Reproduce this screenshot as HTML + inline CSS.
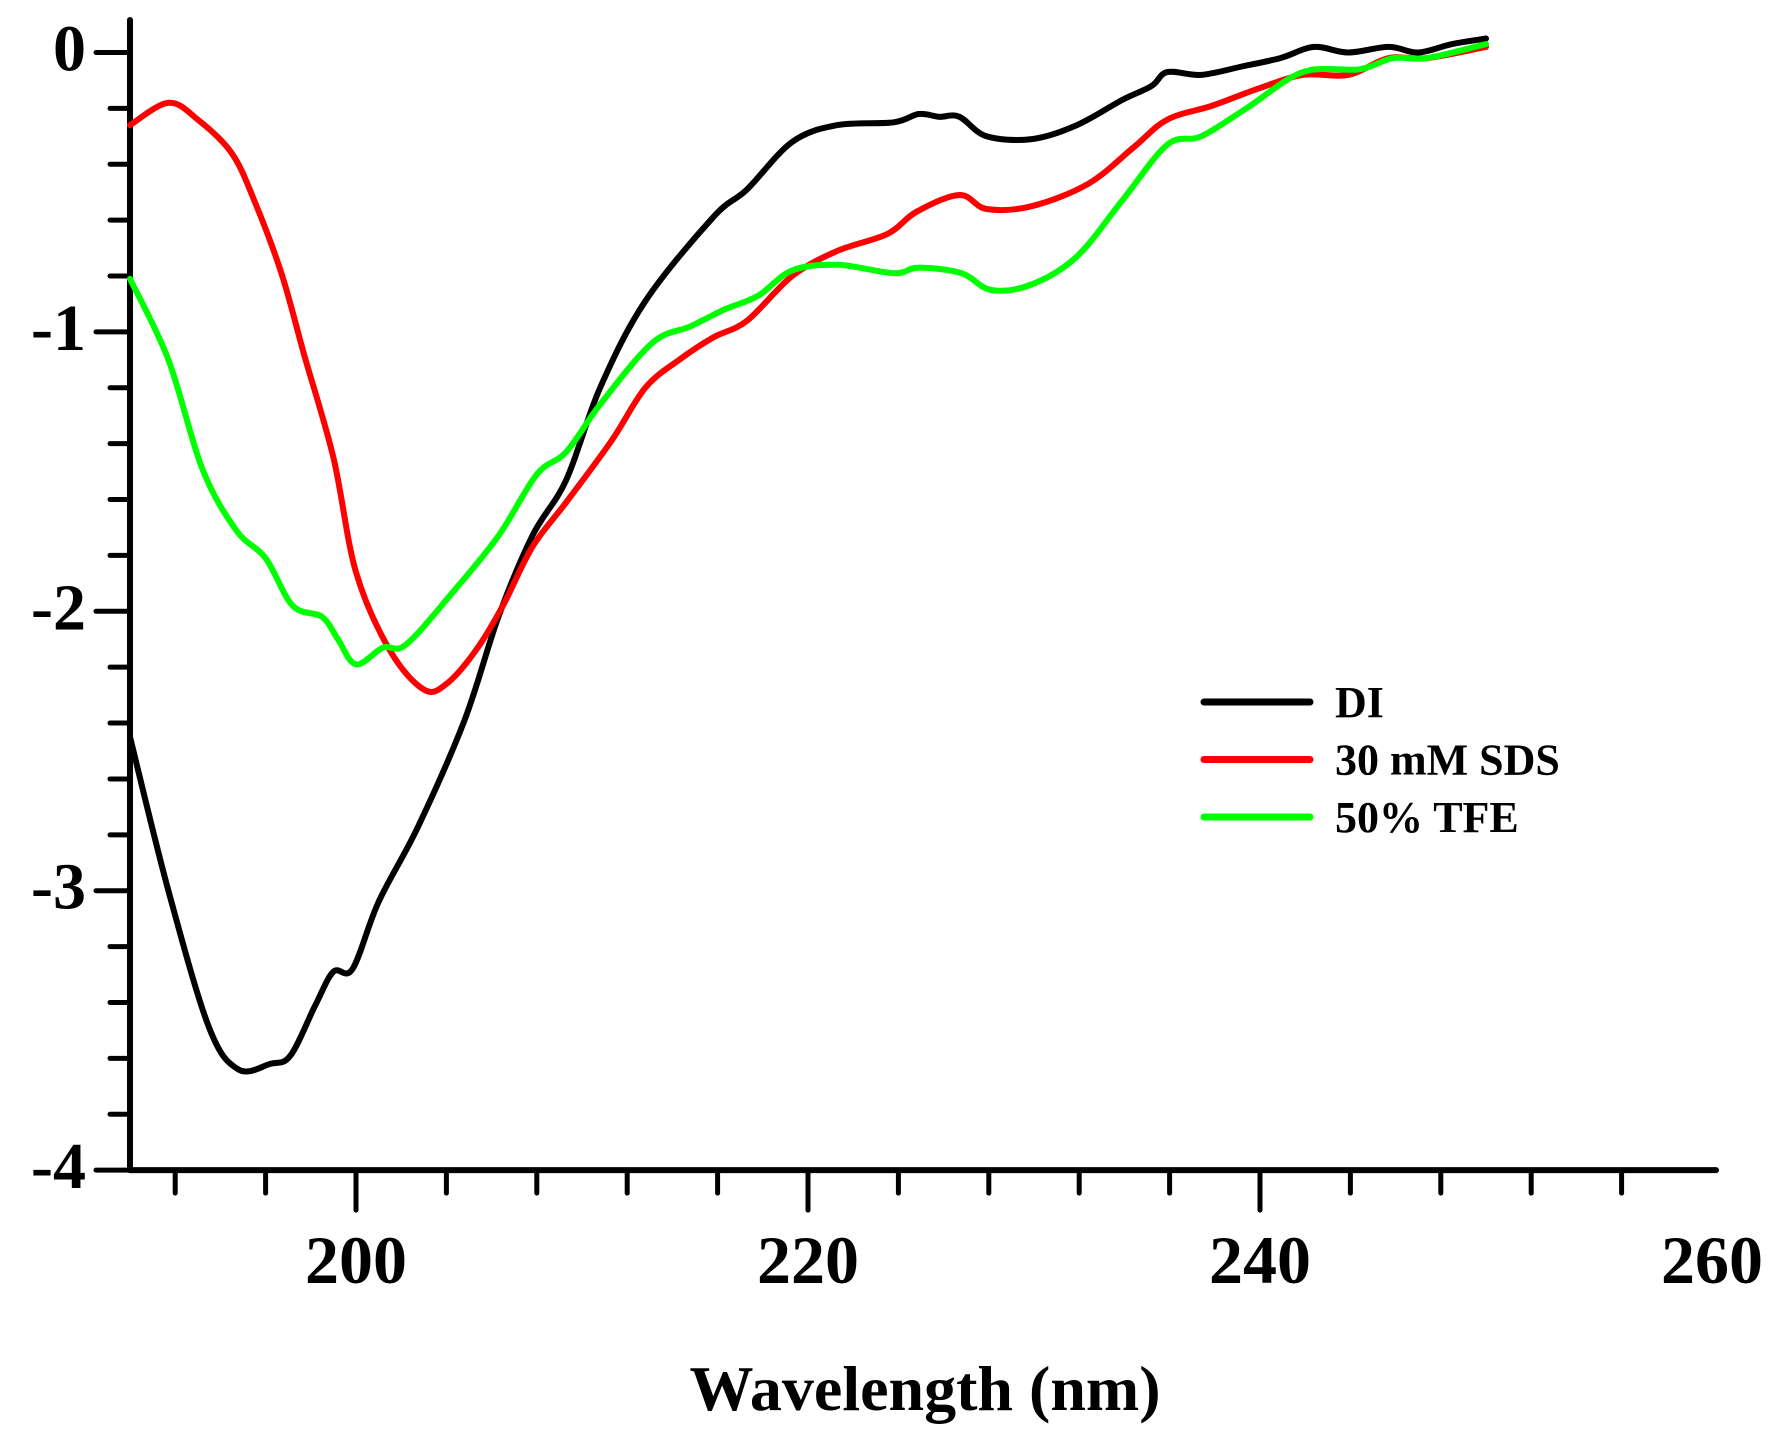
<!DOCTYPE html>
<html><head><meta charset="utf-8"><style>
html,body{margin:0;padding:0;background:#fff}
svg{display:block}
text{font-family:"Liberation Serif",serif;font-weight:bold;fill:#000}
</style></head><body>
<svg id="chart" width="1777" height="1443" viewBox="0 0 1777 1443" xmlns="http://www.w3.org/2000/svg">
<g id="axes"></g>
<g id="series"></g>
<g id="legend"></g>
<text x="925" y="1410" font-size="64" text-anchor="middle">Wavelength (nm)</text>
</svg>
<script>
const diX=[190,191.7,193.5,194.8,196.2,197.1,198.2,199,199.85,201,202.75,204.8,206.3,207.8,209.3,210.8,212.8,215.8,217.3,219.3,221.3,223.8,224.9,225.8,226.7,227.9,229.9,231.9,233.9,235.2,235.9,237.4,239.2,240.9,242.4,243.9,245.7,247,248.5,250];
const diY=[-2.45,-3.0,-3.49,-3.64,-3.62,-3.59,-3.41,-3.29,-3.28,-3.04,-2.77,-2.39,-2.02,-1.73,-1.53,-1.20,-0.89,-0.59,-0.49,-0.32,-0.26,-0.25,-0.22,-0.23,-0.23,-0.30,-0.31,-0.26,-0.17,-0.12,-0.07,-0.08,-0.05,-0.02,0.02,0.0,0.02,0.0,0.03,0.05];
const sdsX=[190,191.7,193,194.5,195.5,196.7,197.7,199,200,201.5,203,204,205.3,206.5,207.8,209.3,211.3,212.8,214.3,215.8,217.3,219.3,221.3,223.5,224.8,226.7,227.9,229.9,232.4,234.4,235.9,237.9,239.9,241.9,243.9,245.7,247.4,250];
const sdsY=[-0.26,-0.18,-0.24,-0.36,-0.53,-0.79,-1.08,-1.45,-1.86,-2.14,-2.28,-2.26,-2.14,-1.98,-1.77,-1.61,-1.39,-1.20,-1.10,-1.02,-0.96,-0.80,-0.71,-0.65,-0.57,-0.51,-0.56,-0.55,-0.47,-0.34,-0.24,-0.19,-0.13,-0.08,-0.08,-0.02,-0.02,0.02];
const tfeX=[190,191.7,193.2,194.7,196,197.2,198.5,199.2,200,201.2,202.2,204.2,206.3,208,209.3,210.8,213.1,214.8,216.3,217.8,219.3,221.3,223.8,224.9,226.8,228.1,229.9,231.9,233.9,235.9,237.4,239.4,241.9,244.4,245.9,247.4,250];
const tfeY=[-0.81,-1.10,-1.49,-1.71,-1.81,-1.98,-2.02,-2.10,-2.19,-2.13,-2.12,-1.94,-1.73,-1.51,-1.43,-1.26,-1.04,-0.98,-0.92,-0.87,-0.78,-0.76,-0.79,-0.77,-0.79,-0.85,-0.83,-0.73,-0.53,-0.33,-0.30,-0.20,-0.07,-0.06,-0.02,-0.02,0.03];
const xTickLabels=[200,220,240,260];
const yTickLabels=[0,-1,-2,-3,-4];
const seriesNames=["DI","30 mM SDS","50% TFE"];
const seriesColors=["#000000","#ff0000","#00ff00"];

const NS="http://www.w3.org/2000/svg";
const X0=130, XPX=22.6, Y0=52.5, YPX=279.4;
function sx(v){return X0+(v-190)*XPX;}
function sy(v){return Y0-v*YPX;}
function mk(tag,attrs,parent){const e=document.createElementNS(NS,tag);for(const k in attrs)e.setAttribute(k,attrs[k]);parent.appendChild(e);return e;}
function smooth(p){
  let d="M"+p[0][0].toFixed(1)+","+p[0][1].toFixed(1);
  for(let i=0;i<p.length-1;i++){
    const p0=p[Math.max(i-1,0)],p1=p[i],p2=p[i+1],p3=p[Math.min(i+2,p.length-1)];
    const c1x=p1[0]+(p2[0]-p0[0])/6,c1y=p1[1]+(p2[1]-p0[1])/6;
    const c2x=p2[0]-(p3[0]-p1[0])/6,c2y=p2[1]-(p3[1]-p1[1])/6;
    d+=" C"+c1x.toFixed(1)+","+c1y.toFixed(1)+" "+c2x.toFixed(1)+","+c2y.toFixed(1)+" "+p2[0].toFixed(1)+","+p2[1].toFixed(1);
  }
  return d;
}
const axes=document.getElementById('axes');
const ser=document.getElementById('series');
const leg=document.getElementById('legend');
const ax={stroke:"#000","stroke-width":6,"stroke-linecap":"round"};
let e=mk('line',Object.assign({x1:X0,y1:20,x2:X0,y2:sy(-4)},ax),axes);


e=mk('line',Object.assign({x1:X0,y1:sy(-4),x2:1716,y2:sy(-4)},ax),axes);


for(let v=192;v<=256;v+=4){
  const major=(v%20===0);
  e=mk('line',{x1:sx(v),y1:sy(-4),x2:sx(v),y2:sy(-4)+(major?40:23),stroke:"#000","stroke-width":5,"stroke-linecap":"round"},axes);
  
  
}
for(let i=0;i<=20;i++){
  const v=-i*0.2;const major=(i%5===0);
  e=mk('line',{x1:X0,y1:sy(v),x2:X0-(major?34:20),y2:sy(v),stroke:"#000","stroke-width":5,"stroke-linecap":"round"},axes);
  
  
}
xTickLabels.forEach(v=>{
  e=mk('text',{x:sx(v),y:1283,"font-size":68,"text-anchor":"middle"},axes);
  e.textContent=v;
  
  
});
yTickLabels.forEach(v=>{
  e=mk('text',{x:86,y:sy(v)+18,"font-size":66,"text-anchor":"end"},axes);
  e.textContent=v;
  
  
});
const data=[[diX,diY],[sdsX,sdsY],[tfeX,tfeY]];
const names=['series-di','series-30mm-sds','series-50pct-tfe'];
data.forEach((d,i)=>{
  const pts=d[0].map((x,j)=>[sx(x),sy(d[1][j])]);
  const p=mk('path',{d:smooth(pts),fill:"none",stroke:seriesColors[i],"stroke-width":6,"stroke-linejoin":"round","stroke-linecap":"round"},ser);
  
  
});
seriesNames.forEach((n,i)=>{
  const y=702+i*57.5;
  const l=mk('line',{x1:1204,y1:y,x2:1310,y2:y,stroke:seriesColors[i],"stroke-width":7,"stroke-linecap":"round"},leg);
  
  
  const t=mk('text',{x:1335,y:y+15,"font-size":44},leg);
  t.textContent=n;
  
  
});
</script>
</body></html>
